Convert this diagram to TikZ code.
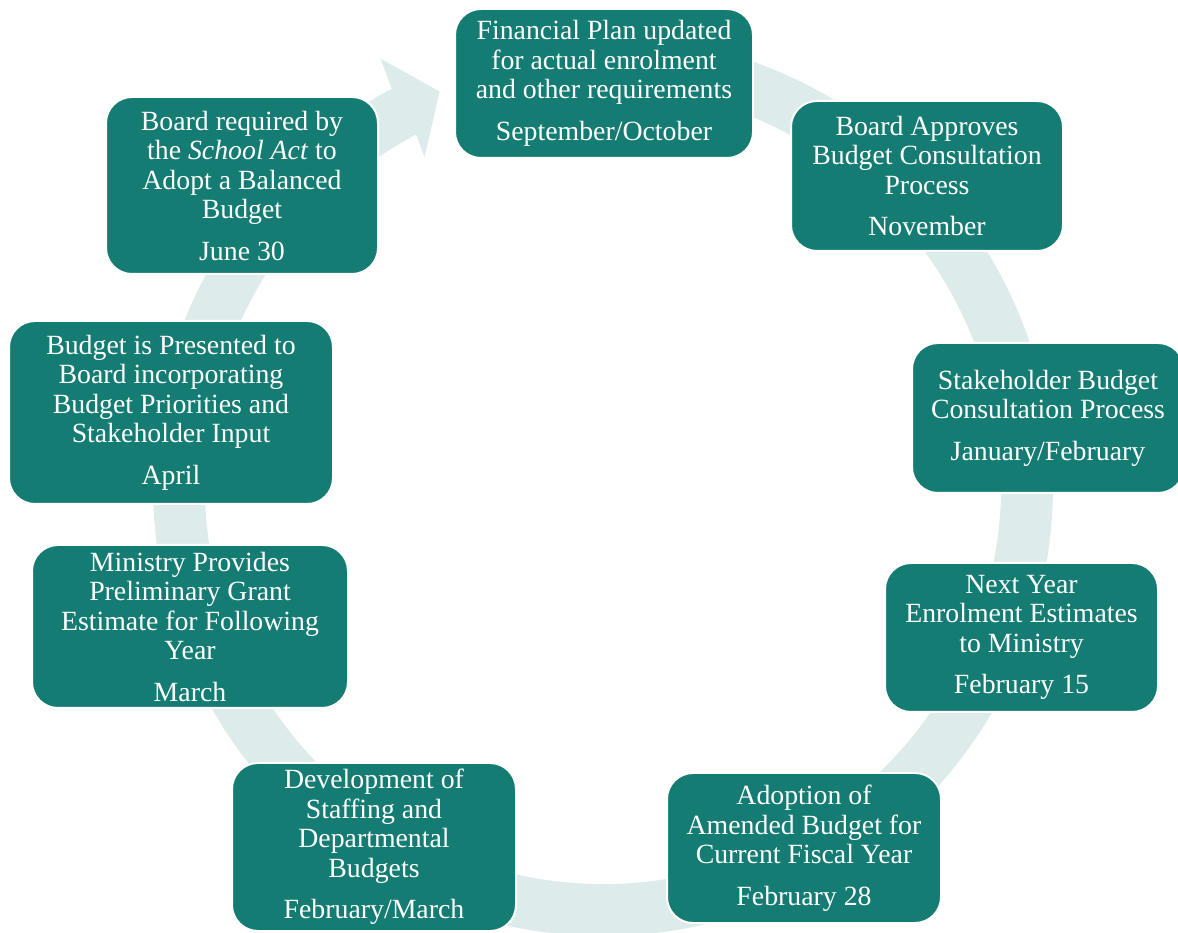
\documentclass[tikz,border=0pt]{standalone}
\usepackage{fontspec}
\setmainfont{Liberation Serif}
\usetikzlibrary{calc}
\definecolor{boxteal}{RGB}{20,124,114}
\definecolor{ringtint}{RGB}{221,236,234}
\begin{document}
\begin{tikzpicture}[x=1pt,y=1pt,line join=round,
	stage/.style={draw=white,line width=2pt,fill=boxteal,rounded corners=26pt,text=white,align=center,inner sep=4pt,font=\fontsize{27.8}{29.5}\selectfont},
	ring/.style={fill=ringtint}]
		\useasboundingbox (0,0) rectangle (1178,932);
		\coordinate (c) at (603,446);
		\fill[ring] ($(c)+(90:450)$) arc[start angle=90,end angle=-242,radius=450]
			-- ($(c)+(-242.5:482)$) -- ($(c)+(-247.5:427)$) -- ($(c)+(-241.5:374)$)
			-- ($(c)+(-242:398)$) arc[start angle=-242,end angle=90,radius=398] -- cycle;
		\node[stage,minimum width=298,minimum height=149] (fin) at (604,848.5) {Financial Plan updated\\for actual enrolment\\and other requirements\\[12pt]September/October};
		\node[stage,minimum width=272,minimum height=150] (approve) at (927,756) {Board Approves\\Budget Consultation\\Process\\[12pt]November};
		\node[stage,minimum width=272,minimum height=150] (consult) at (1048,514) {Stakeholder Budget\\Consultation Process\\[12pt]January/February};
		\node[stage,minimum width=273,minimum height=149] (enrol) at (1021.5,294.5) {Next Year\\Enrolment Estimates\\to Ministry\\[12pt]February 15};
		\node[stage,minimum width=274,minimum height=150] (amend) at (804,84) {Adoption of\\Amended Budget for\\Current Fiscal Year\\[12pt]February 28};
		\node[stage,minimum width=284,minimum height=168] (staff) at (374,85) {Development of\\Staffing and\\Departmental\\Budgets\\[12pt]February/March};
		\node[stage,minimum width=316,minimum height=163] (grant) at (190,305.5) {Ministry Provides\\Preliminary Grant\\Estimate for Following\\Year\\[12pt]March};
		\node[stage,minimum width=324,minimum height=183] (present) at (171,519.5) {Budget is Presented to\\Board incorporating\\Budget Priorities and\\Stakeholder Input\\[12pt]April};
		\node[stage,minimum width=272,minimum height=177] (adopt) at (242,746.5) {Board required by\\the \textit{School Act} to\\Adopt a Balanced\\Budget\\[12pt]June 30};
\end{tikzpicture}
\end{document}
